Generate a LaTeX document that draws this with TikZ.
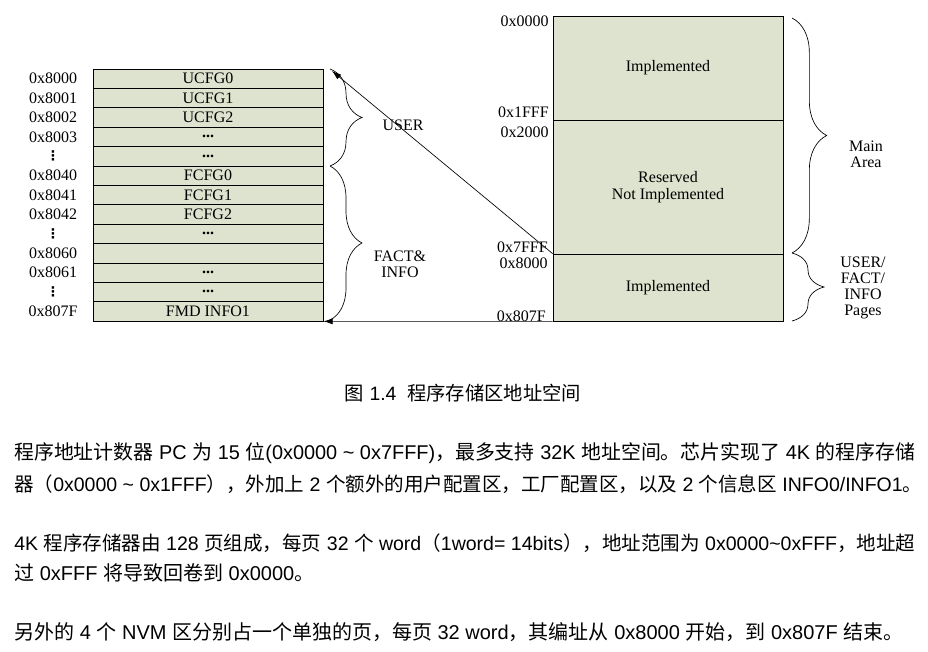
\documentclass[tikz,border=0pt]{standalone}
\usepackage{fontspec}
\setmainfont{Liberation Serif}
\newfontfamily\latinsans{Liberation Sans}
\newfontfamily\dejavu{DejaVu Sans}
\newfontfamily\cjk{Noto Sans CJK SC}
\usetikzlibrary{decorations.pathreplacing,arrows.meta,calc}
\definecolor{cellfill}{RGB}{221,227,206}
\newcommand\zh[1]{{\cjk #1}}
\newcommand\vdt{{\dejavu\bfseries\fontsize{10}{10}\selectfont ⋮}}
\begin{document}
\begin{tikzpicture}[x=0.75pt,y=-0.75pt,
  cell/.style={draw=black, line width=0.5pt, fill=cellfill, minimum width=172.5pt, minimum height=14.54pt, inner sep=0pt, font=\fontsize{12}{12}\selectfont},
  sect/.style={draw=black, line width=0.5pt, fill=cellfill, minimum width=172.5pt, inner sep=0pt, align=center, font=\fontsize{12}{13}\selectfont},
  addr/.style={inner sep=0pt, font=\fontsize{12}{12}\selectfont},
  lbl/.style={inner sep=0pt, align=center, font=\fontsize{12}{12}\selectfont},
  brc/.style={decorate, decoration={brace, amplitude=#1}, line width=0.5pt},
  arr/.style={-{Latex[length=7pt,width=4.5pt]}, line width=0.5pt},
  para/.style={inner sep=0pt, anchor=west, font=\latinsans\fontsize{15}{18}\selectfont},
]
\useasboundingbox (0,0) rectangle (928,652);
% left table
\foreach \i/\t in {1/UCFG0,2/UCFG1,3/UCFG2,4/\textbf{...},5/\textbf{...},6/FCFG0,7/FCFG1,8/FCFG2,9/\textbf{...},10/{},11/\textbf{...},12/\textbf{...},13/FMD INFO1}{
  \node[cell] (r\i) at (208,{69+19.385*(\i-0.5)}) {\t};
}
\foreach \i/\t in {1/0x8000,2/0x8001,3/0x8002,4/0x8003,5/\vdt,6/0x8040,7/0x8041,8/0x8042,9/\vdt,10/0x8060,11/0x8061,12/\vdt,13/0x807F}{
  \node[addr] (a\i) at (53,{69+19.385*(\i-0.5)}) {\t};
}
% right table
\node[sect, minimum height=78pt] (s1) at (668,68) {Implemented};
\node[sect, minimum height=100.5pt] (s2) at (668,187) {Reserved\\Not Implemented};
\node[sect, minimum height=50.25pt] (s3) at (668,287.5) {Implemented};
\node[addr, anchor=east] (b1) at (549,21) {0x0000};
\node[addr, anchor=east] (b2) at (549,112) {0x1FFF};
\node[addr, anchor=east] (b3) at (549,132) {0x2000};
\node[addr, anchor=east] (b4) at (548,247) {0x7FFF};
\node[addr, anchor=east] (b5) at (548,263) {0x8000};
\node[addr, anchor=east] (b6) at (546,316) {0x807F};
% braces
\coordinate (u1) at (330,69);
\coordinate (u2) at (330,166);
\coordinate (u3) at (330,320);
\draw[brc=24pt] (u1) -- (u2);
\draw[brc=24pt] (u2) -- (u3);
\node[lbl] (luser) at (403,125) {USER};
\node[lbl] (lfact) at (400,264) {FACT\&\\INFO};
\coordinate (m1) at (792,18);
\coordinate (m2) at (792,253);
\coordinate (m3) at (792,321);
\draw[brc=26pt] (m1) -- (m2);
\draw[brc=24pt] (m2) -- (m3);
\node[lbl] (lmain) at (866,154) {Main\\Area};
\node[lbl] (lpages) at (863,288) {USER/\\FACT/\\INFO\\Pages};
% arrows
\coordinate (t1) at (332,71);
\draw[arr] (s3.north west) -- (t1);
\draw[arr] (s3.south west) -- (r13.south east);
% caption and text
\node[inner sep=0pt, font=\latinsans\fontsize{14.5}{16}\selectfont] (cap) at (463,393) {\zh{图} 1.4\ \ \zh{程序存储区地址空间}};
\node[para] (p1) at (14,453) {\resizebox{675.75pt}{!}{\zh{程序地址计数器} PC \zh{为} 15 \zh{位}(0x0000 \textasciitilde{} 0x7FFF)\zh{，最多支持} 32K \zh{地址空间。芯片实现了} 4K \zh{的程序存储}}};
\node[para] (p2) at (14,484) {\resizebox{681pt}{!}{\zh{器（}0x0000 \textasciitilde{} 0x1FFF\zh{），外加上} 2 \zh{个额外的用户配置区，工厂配置区，以及} 2 \zh{个信息区} INFO0/INFO1\zh{。}}};
\node[para] (p3) at (14,543) {\resizebox{675.75pt}{!}{4K \zh{程序存储器由} 128 \zh{页组成，每页} 32 \zh{个} word\zh{（}1word= 14bits\zh{），地址范围为} 0x0000\textasciitilde{}0xFFF\zh{，地址超}}};
\node[para] (p4) at (14,573) {\zh{过} 0xFFF \zh{将导致回卷到} 0x0000\zh{。}};
\node[para] (p5) at (14,632) {\zh{另外的} 4 \zh{个} NVM \zh{区分别占一个单独的页，每页} 32 word\zh{，其编址从} 0x8000 \zh{开始，到} 0x807F \zh{结束。}};
\end{tikzpicture}
\end{document}
